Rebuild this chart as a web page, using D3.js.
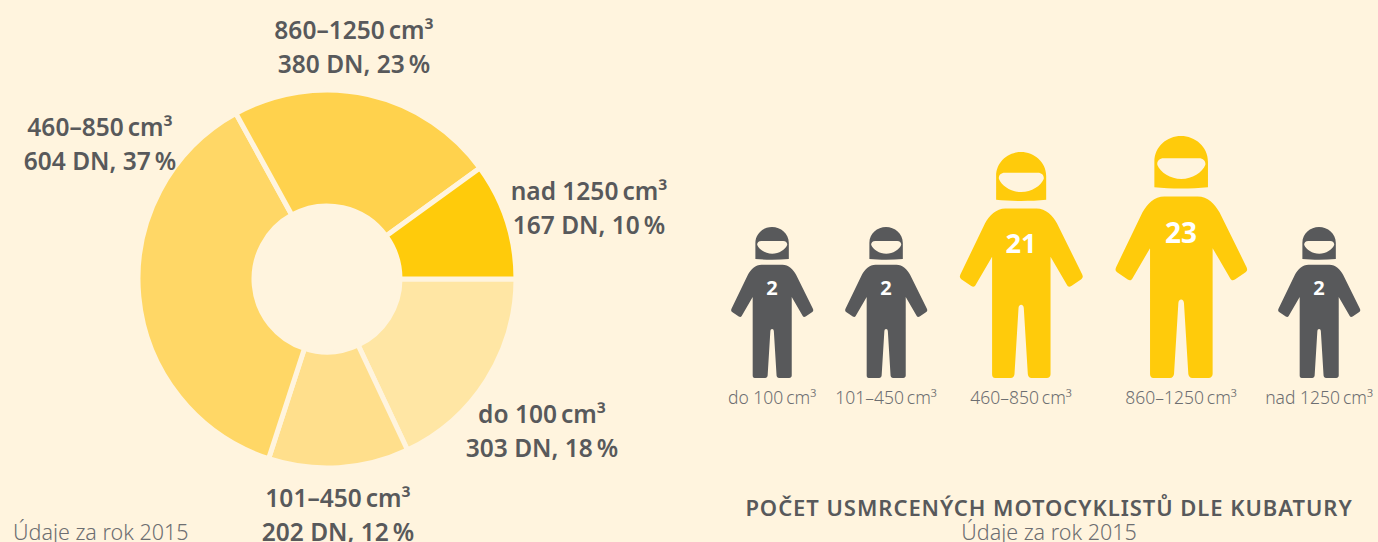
<!DOCTYPE html>
<html>
<head>
<meta charset="utf-8">
<script src="https://cdn.jsdelivr.net/npm/d3@7"></script>
<style>
  html, body { margin: 0; padding: 0; background: #fff4de; overflow: hidden; }
  text { font-family: "Noto Sans", sans-serif; }
</style>
</head>
<body>
<div id="chart"></div>
<script>
// data
const pieRanges = ["do 100\u2009cm³", "101–450\u2009cm³", "460–850\u2009cm³", "860–1250\u2009cm³", "nad 1250\u2009cm³"];
const pieInjured = [303, 202, 604, 380, 167];
const piePercent = [18, 12, 37, 23, 10];
const pieColors = ["#ffe6a4", "#ffdf8c", "#ffd766", "#ffd24d", "#ffcb0b"];

const deathRanges = ["do 100\u2009cm³", "101–450\u2009cm³", "460–850\u2009cm³", "860–1250\u2009cm³", "nad 1250\u2009cm³"];
const deaths = [2, 2, 21, 23, 2];

// layout
const width = 1378;
const height = 542;
const bg = "#fff4de";
const dark = "#58595b";
const light = "#6d6e71";
const pieLabelX = [542, 338, 100, 354, 589];
const pieLabelY = [423, 507, 136, 39, 200];
const figureX = [772, 886, 1021, 1181, 1319];
const figureBase = 378;

const svg = d3.select("#chart")
  .append("svg")
  .attr("width", width)
  .attr("height", height)
  .attr("viewBox", [0, 0, width, height])
  .style("display", "block")
  .style("background-color", bg);

// donut, starts at 3 o'clock and runs clockwise
// slice angles in the picture follow the rounded percentages, not the counts
const pie = d3.pie()
  .sort(null)
  .startAngle(Math.PI / 2)
  .endAngle(Math.PI * 2.5);
const arc = d3.arc().innerRadius(73).outerRadius(189);

svg.append("g")
  .attr("transform", "translate(327,279)")
  .selectAll("path")
  .data(pie(piePercent))
  .join("path")
  .attr("d", arc)
  .attr("fill", (d, i) => pieColors[i])
  .attr("stroke", bg)
  .attr("stroke-width", 5);

const pieLabels = svg.append("g")
  .attr("text-anchor", "middle")
  .attr("fill", dark)
  .attr("font-size", "24.5px")
  .attr("font-weight", 600)
  .selectAll("text")
  .data(pieRanges)
  .join("text")
  .attr("x", (d, i) => pieLabelX[i])
  .attr("y", (d, i) => pieLabelY[i]);

pieLabels.append("tspan").text(d => d);
pieLabels.append("tspan")
  .attr("x", (d, i) => pieLabelX[i])
  .attr("dy", 34)
  .text((d, i) => `${pieInjured[i]} DN, ${piePercent[i]}\u2009%`);

svg.append("text")
  .attr("x", 13)
  .attr("y", 540)
  .attr("fill", light)
  .attr("font-size", "21.5px")
  .attr("font-weight", 300)
  .text("Údaje za rok 2015");

// rider outline, x from the centre line, y up from the feet, drawn at height 727
const helmet = "M-80,573 L-80,650 C-80,695 -42,727 0,727 C42,727 81,695 81,650 L81,573 C30,568 -30,568 -80,573 Z"
  + " M-52,660 C-66,660 -73,650 -71,640 C-62,618 -32,598 1,598 C34,598 64,618 73,640 C75,650 68,660 54,660 Z";
const suit = "M-50,545 L50,545 C80,545 102,522 116,497 L197,333 C200,326 199,322 194,318 L162,296 C156,292 151,293 148,299 L95,390 "
  + "L95,12 C95,5 90,0 83,0 L34,0 C27,0 23,5 22,12 L9,224 C9,240 -8,240 -8,224 L-21,12 C-22,5 -26,0 -33,0 L-83,0 C-90,0 -93,5 -93,12 "
  + "L-93,390 L-146,299 C-149,293 -154,292 -160,296 L-192,318 C-197,322 -198,326 -195,333 L-116,497 C-102,522 -80,545 -50,545 Z";

const figureHeight = d3.scaleLinear().domain([2, 21, 23]).range([151, 226, 242]);
const numberSize = d3.scaleLinear().domain([2, 23]).range([20, 28]);

const figures = svg.append("g")
  .selectAll("g")
  .data(deaths)
  .join("g")
  .attr("transform", (d, i) => `translate(${figureX[i]},${figureBase})`);

const figureColor = d => d > 10 ? "#ffcb0b" : dark;

figures.append("path")
  .attr("d", helmet + " " + suit)
  .attr("fill-rule", "evenodd")
  .attr("fill", figureColor)
  .attr("transform", d => {
    const s = figureHeight(d) / 727;
    return `scale(${s},${-s})`;
  });

figures.append("text")
  .attr("text-anchor", "middle")
  .attr("y", d => -figureHeight(d) * 435 / 727)
  .attr("dy", "0.36em")
  .attr("fill", "#fff")
  .attr("font-weight", 700)
  .attr("font-size", d => numberSize(d) + "px")
  .text(d => d);

figures.append("text")
  .attr("text-anchor", "middle")
  .attr("y", 26)
  .attr("fill", light)
  .attr("font-size", "17.5px")
  .attr("font-weight", 300)
  .text((d, i) => deathRanges[i]);

svg.append("text")
  .attr("x", 1049)
  .attr("y", 516)
  .attr("text-anchor", "middle")
  .attr("fill", dark)
  .attr("font-size", "22px")
  .attr("font-weight", 600)
  .attr("letter-spacing", "0.95px")
  .text("POČET USMRCENÝCH MOTOCYKLISTŮ DLE KUBATURY");

svg.append("text")
  .attr("x", 1049)
  .attr("y", 540)
  .attr("text-anchor", "middle")
  .attr("fill", light)
  .attr("font-size", "21.5px")
  .attr("font-weight", 300)
  .text("Údaje za rok 2015");
</script>
</body>
</html>
